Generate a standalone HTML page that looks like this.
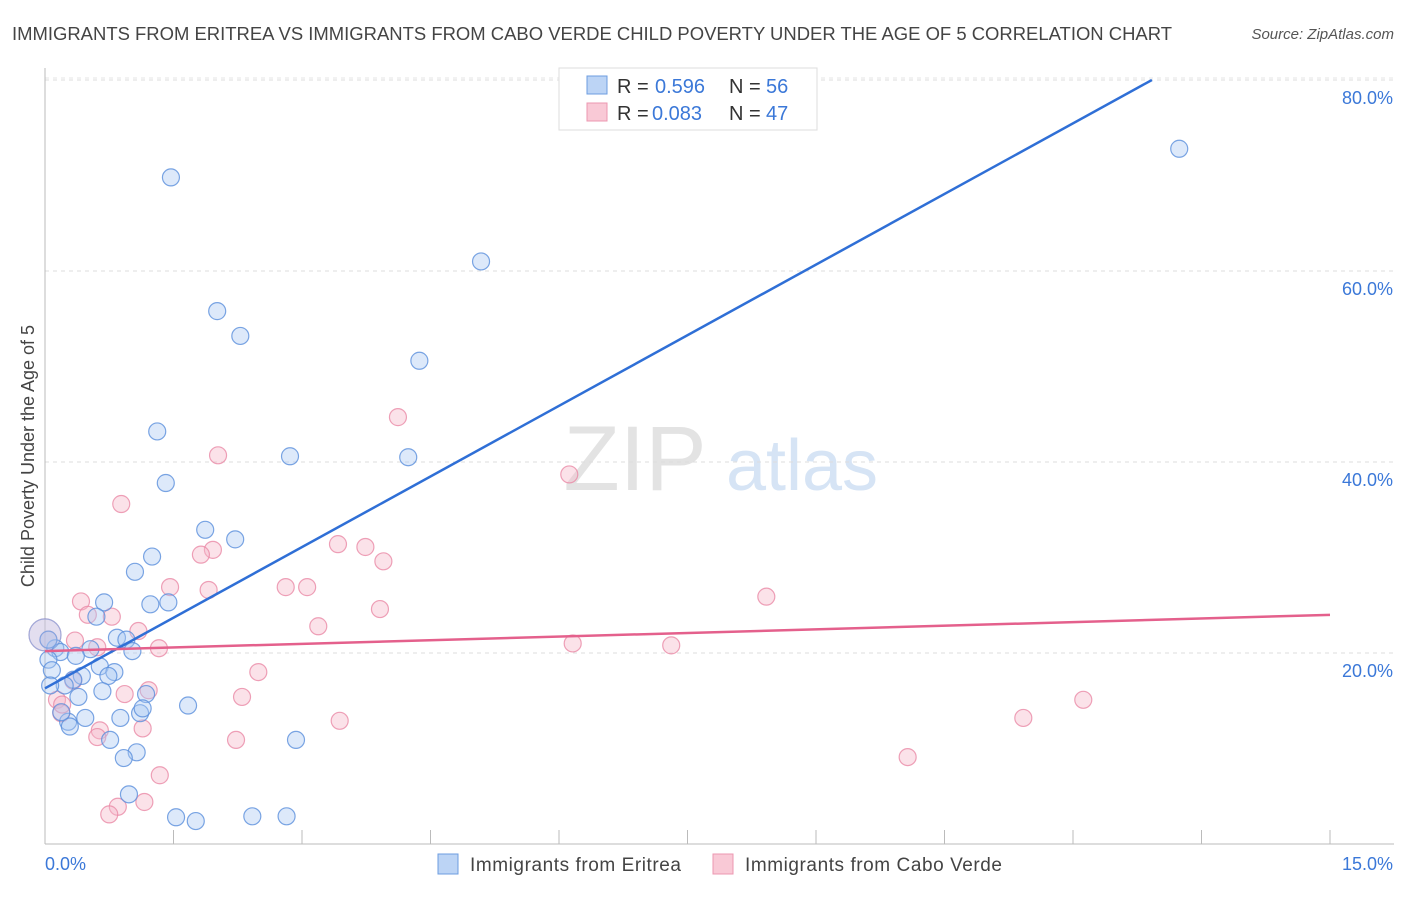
<!DOCTYPE html>
<html><head><meta charset="utf-8"><style>
body{margin:0;background:#fff;font-family:"Liberation Sans",Arial,sans-serif;}
svg text{font-family:"Liberation Sans",Arial,sans-serif;}
</style></head><body>
<svg id="chart" width="1406" height="892" viewBox="0 0 1406 892" xmlns="http://www.w3.org/2000/svg">
<text x="12" y="40" font-size="18" fill="#444" textLength="1160" lengthAdjust="spacingAndGlyphs">IMMIGRANTS FROM ERITREA VS IMMIGRANTS FROM CABO VERDE CHILD POVERTY UNDER THE AGE OF 5 CORRELATION CHART</text>
<text x="1394" y="39" font-size="15" fill="#555" text-anchor="end" font-style="italic">Source: ZipAtlas.com</text>
<g>
<text x="635" y="490" font-size="92" fill="#e3e3e3" text-anchor="middle" font-family="Liberation Serif, serif">ZIP</text>
<text x="802" y="490" font-size="72" fill="#d6e4f5" text-anchor="middle">atlas</text>
</g>
<g id="grid"></g>
<g id="axes"></g>
<g id="pts"></g>
<g id="lines"></g>
<text transform="translate(34,456) rotate(-90)" font-size="18" fill="#444" text-anchor="middle">Child Poverty Under the Age of 5</text>
<g>
<rect x="559" y="68" width="258" height="62" fill="#fff" stroke="#ddd"/>
<rect x="587" y="76" width="20" height="18" fill="#bcd4f5" stroke="#6d9de0"/>
<rect x="587" y="103" width="20" height="18" fill="#f9c9d6" stroke="#ec97b0"/>
<text x="617" y="93" font-size="20" fill="#333">R =</text>
<text x="655" y="93" font-size="20" fill="#3b78d8">0.596</text>
<text x="729" y="93" font-size="20" fill="#333">N =</text>
<text x="766" y="93" font-size="20" fill="#3b78d8">56</text>
<text x="617" y="120" font-size="20" fill="#333">R =</text>
<text x="652" y="120" font-size="20" fill="#3b78d8">0.083</text>
<text x="729" y="120" font-size="20" fill="#333">N =</text>
<text x="766" y="120" font-size="20" fill="#3b78d8">47</text>
</g>
<g>
<rect x="438" y="854" width="20" height="20" fill="#bcd4f5" stroke="#6d9de0"/>
<text x="470" y="871" font-size="19" fill="#444" textLength="211">Immigrants from Eritrea</text>
<rect x="713" y="854" width="20" height="20" fill="#f9c9d6" stroke="#ec97b0"/>
<text x="745" y="871" font-size="19" fill="#444" textLength="257">Immigrants from Cabo Verde</text>
</g>
</svg>
<script>
const yTicks=[20,40,60,80];
const yTickLabels=["20.0%","40.0%","60.0%","80.0%"];
const xTicks=[1.5,3,4.5,6,7.5,9,10.5,12,13.5,15];
const xEndLabels=["0.0%","15.0%"];
const eritreaX=[1.47,13.24,5.09,2.01,2.28,4.37,1.31,2.86,4.24,1.41,1.87,2.22,1.25,1.05,0.69,1.23,1.44,0.60,0.84,0.95,0.53,1.02,0.12,0.18,0.36,0.04,0.08,0.64,0.81,0.74,0.43,0.33,0.23,0.06,0.67,0.39,1.18,1.67,0.88,1.11,1.14,0.47,0.27,0.29,0.76,2.93,1.07,0.92,0.98,1.53,1.76,2.42,2.82,0.19,0.04,0];
const eritreaY=[69.8,72.8,61.0,55.8,53.2,50.6,43.2,40.6,40.5,37.8,32.9,31.9,30.1,28.5,25.3,25.1,25.3,23.8,21.6,21.4,20.4,20.2,20.5,20.1,19.7,19.3,18.2,18.6,18.0,17.6,17.6,17.2,16.6,16.6,16.0,15.4,15.7,14.5,13.2,13.7,14.2,13.2,12.8,12.3,10.9,10.9,9.6,9.0,5.2,2.8,2.4,2.9,2.9,13.8,21.4,21.9];
const caboX=[4.12,2.02,6.12,0.89,3.42,3.74,1.96,1.82,3.95,1.46,2.81,3.06,1.91,8.42,0.42,0.78,3.91,0.50,3.19,1.09,0.35,0.61,6.16,1.33,7.31,2.49,0.33,1.21,2.30,0.93,0.14,0.19,12.12,11.42,0.64,0.61,1.14,3.44,2.23,1.34,10.07,1.16,0.85,0.75,0.04,0,0.2];
const caboY=[44.7,40.7,38.7,35.6,31.4,31.1,30.8,30.3,29.6,26.9,26.9,26.9,26.6,25.9,25.4,23.8,24.6,24.0,22.8,22.3,21.3,20.6,21.0,20.5,20.8,18.0,17.1,16.1,15.4,15.7,15.1,13.7,15.1,13.2,11.9,11.2,12.1,12.9,10.9,7.2,9.1,4.4,3.9,3.1,21.4,21.9,14.6];
const eritreaTrend=[16.3,4.93]; // intercept, slope
const caboTrend=[20.2,0.253];
const NS="http://www.w3.org/2000/svg";
const xs=v=>45+v*(1285/15);
const ys=v=>844-v*(764/80);
function mk(tag,attrs,parent){const e=document.createElementNS(NS,tag);for(const k in attrs)e.setAttribute(k,attrs[k]);parent.appendChild(e);return e;}
const grid=document.getElementById('grid'),axes=document.getElementById('axes'),pts=document.getElementById('pts'),lines=document.getElementById('lines');
mk('line',{x1:45,x2:1394,y1:78,y2:78,stroke:'#e4e4e4','stroke-dasharray':'4,4'},grid);
yTicks.forEach((t,i)=>{
 const l=mk('line',{x1:45,x2:1394,y1:ys(t),y2:ys(t),stroke:'#ddd','stroke-dasharray':'4,4'},grid);
 
 
 const tx=mk('text',{x:1393,y:ys(t)+24,'font-size':18,fill:'#3b78d8','text-anchor':'end'},axes);
 tx.textContent=yTickLabels[i];
 
 
});
mk('line',{x1:45,x2:45,y1:68,y2:844,stroke:'#bbb'},axes);
mk('line',{x1:45,x2:1394,y1:844,y2:844,stroke:'#bbb'},axes);
xTicks.forEach(t=>{
 const l=mk('line',{x1:xs(t),x2:xs(t),y1:830,y2:844,stroke:'#bbb'},axes);
 
 
});
const xl0=mk('text',{x:45,y:870,'font-size':18,fill:'#3b78d8'},axes);xl0.textContent=xEndLabels[0];


const xl1=mk('text',{x:1393,y:870,'font-size':18,fill:'#3b78d8','text-anchor':'end'},axes);xl1.textContent=xEndLabels[1];


function series(X,Y,fill,stroke,name){
 X.forEach((x,i)=>{
  const big=(x===0);
  const c=mk('circle',{cx:xs(x),cy:ys(Y[i]),r:big?16:8.5,fill:fill,'fill-opacity':big?0.3:0.4,stroke:stroke,'stroke-opacity':big?0.5:0.8,'stroke-width':1.2},pts);
  
  
 });
}
series(caboX,caboY,'#f6b6c8','#ea8aa6','point-cabo-verde');
series(eritreaX,eritreaY,'#a9c8f2','#5a8fdc','point-eritrea');
const eEnd=(80-eritreaTrend[0])/eritreaTrend[1];
const el=mk('line',{x1:xs(0),y1:ys(eritreaTrend[0]),x2:xs(eEnd),y2:ys(80),stroke:'#2f6fd6','stroke-width':2.5},lines);


const cl=mk('line',{x1:xs(0),y1:ys(caboTrend[0]),x2:xs(15),y2:ys(caboTrend[0]+caboTrend[1]*15),stroke:'#e4608c','stroke-width':2.5},lines);


</script>
</body></html>
